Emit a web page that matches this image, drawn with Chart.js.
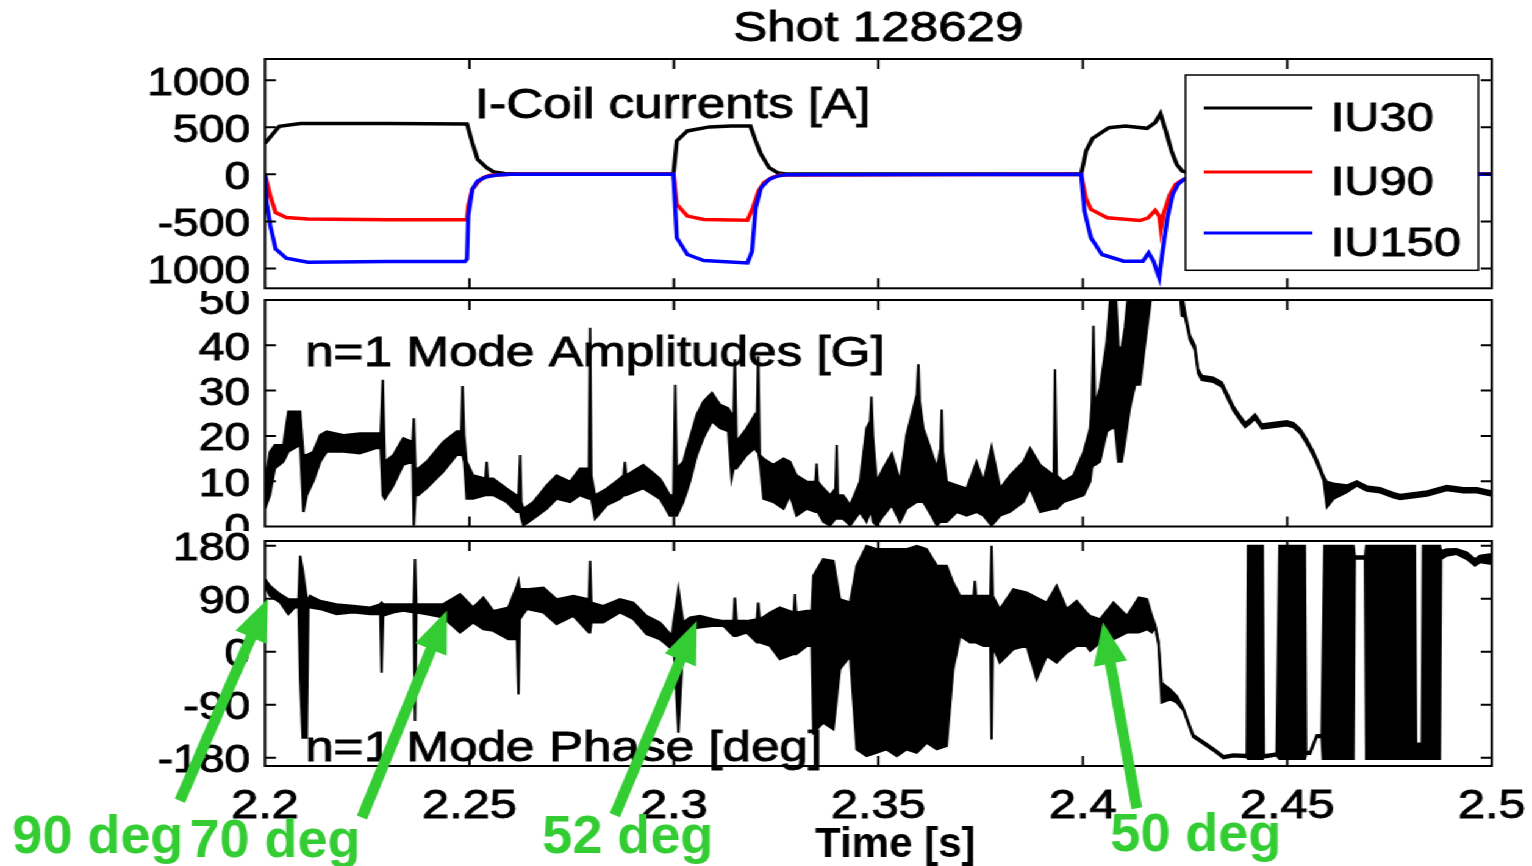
<!DOCTYPE html>
<html>
<head>
<meta charset="utf-8">
<title>Shot 128629</title>
<script src="https://cdn.jsdelivr.net/npm/chart.js@4.4.1/dist/chart.umd.min.js"></script>
<style>
  html, body { margin: 0; padding: 0; background: #fff; overflow: hidden; }
  #figure { position: absolute; left: 0; top: 0; width: 1256px; height: 866px; transform-origin: 0 0; }
  #figure canvas { position: absolute; left: 0; }
  #coils { top: 0; clip-path: inset(0 0 0 121px); }
  #amplitude { top: 291px; }
  #phase { top: 531px; }
</style>
</head>
<body>
<div id="figure">
  <canvas id="coils" width="1256" height="300"></canvas>
  <canvas id="amplitude" width="1256" height="240"></canvas>
  <canvas id="phase" width="1256" height="335"></canvas>
</div>
<script>
// ---- data ----
const timeTicks = [2.2, 2.25, 2.3, 2.35, 2.4, 2.45, 2.5];
const currentTicks = [-1000, -500, 0, 500, 1000];
const amplitudeTicks = [0, 10, 20, 30, 40, 50];
const phaseTicks = [-180, -90, 0, 90, 180];

const coilNames = ['IU30', 'IU90', 'IU150'];

// [time s, current A]
const iu30 = [
  [2.2000, 330], [2.2035, 510], [2.2087, 539], [2.2300, 540], [2.2494, 535], [2.2507, 334],
  [2.2520, 158], [2.2542, 70], [2.2560, 25], [2.2586, 10], [2.2620, 3], [2.2999, 3],
  [2.3007, 355], [2.3033, 461], [2.3087, 504], [2.3140, 514], [2.3187, 514], [2.3200, 355],
  [2.3213, 213], [2.3233, 71], [2.3253, 18], [2.3273, 3], [2.3996, 3],
  [2.4008, 248], [2.4024, 383], [2.4064, 496], [2.4104, 514], [2.4157, 489], [2.4177, 550],
  [2.4190, 645], [2.4203, 461], [2.4217, 248], [2.4230, 106], [2.4243, 35], [2.4270, 5], [2.5000, 3]
];
const iu90 = [
  [2.2000, 0], [2.2013, -230], [2.2026, -405], [2.2052, -458], [2.2105, -475], [2.2300, -482],
  [2.2494, -482], [2.2497, -335], [2.2507, -158], [2.2520, -88], [2.2533, -35], [2.2551, -10],
  [2.2600, 0], [2.2999, 0],
  [2.3007, -319], [2.3033, -443], [2.3073, -480], [2.3180, -488], [2.3193, -355], [2.3207, -177],
  [2.3220, -89], [2.3240, -35], [2.3260, -7], [2.3996, 0],
  [2.4007, -248], [2.4020, -372], [2.4060, -461], [2.4140, -490], [2.4160, -461], [2.4177, -383],
  [2.4187, -443], [2.4191, -585], [2.4197, -426], [2.4213, -213], [2.4227, -106], [2.4240, -71],
  [2.4265, -20], [2.4300, 0], [2.5000, 0]
];
const iu150 = [
  [2.2000, 0], [2.2004, -300], [2.2013, -546], [2.2026, -792], [2.2052, -890], [2.2105, -933],
  [2.2300, -926], [2.2489, -926], [2.2494, -898], [2.2497, -440], [2.2507, -158], [2.2520, -70],
  [2.2542, -25], [2.2568, -7], [2.2600, 0], [2.2999, 0],
  [2.3007, -674], [2.3033, -851], [2.3073, -915], [2.3180, -940], [2.3191, -816], [2.3200, -355],
  [2.3213, -142], [2.3233, -53], [2.3253, -18], [2.3273, -4], [2.3996, 0],
  [2.4004, -390], [2.4020, -674], [2.4047, -851], [2.4100, -922], [2.4147, -922], [2.4161, -833],
  [2.4173, -922], [2.4187, -1099], [2.4193, -887], [2.4207, -461], [2.4220, -213], [2.4233, -106],
  [2.4247, -53], [2.4280, -10], [2.5000, 0]
];

// [time s, low G, high G] envelope of the n=1 amplitude signal
const amplitudeBand = [
  [2.2000, 3.9, 9.9], [2.2012, 6.9, 16.5], [2.2024, 12.8, 18.0], [2.2045, 14.3, 18.0],
  [2.2057, 16.5, 25.4], [2.2086, 18.0, 25.4], [2.2094, 3.2, 15.8], [2.2102, 6.9, 15.8],
  [2.2118, 9.9, 16.5], [2.2135, 14.3, 20.2], [2.2151, 16.5, 21.0], [2.2192, 16.5, 20.2],
  [2.2232, 16.1, 20.6], [2.2273, 17.3, 20.6], [2.2283, 17.3, 20.6], [2.2288, 6.9, 32.4],
  [2.2293, 6.1, 14.3], [2.2314, 9.1, 15.8], [2.2338, 13.6, 19.5], [2.2361, 14.3, 18.7],
  [2.2364, 0.2, 23.9], [2.2368, 6.9, 12.8], [2.2375, 6.9, 12.8], [2.2395, 8.4, 14.3],
  [2.2436, 12.1, 18.7], [2.2469, 15.8, 21.0], [2.2480, 15.8, 21.0], [2.2483, 15.8, 31.0],
  [2.2487, 14.3, 20.2], [2.2493, 6.1, 14.3], [2.2509, 6.1, 11.3], [2.2539, 6.9, 10.6],
  [2.2542, 6.9, 14.3], [2.2545, 6.9, 10.6], [2.2558, 6.9, 10.6], [2.2591, 5.4, 8.4],
  [2.2615, 3.2, 6.9], [2.2620, 3.2, 6.9], [2.2624, 3.2, 15.8], [2.2627, 1.7, 5.4],
  [2.2632, 0.2, 3.9], [2.2656, 1.7, 5.4], [2.2689, 3.9, 9.1], [2.2713, 6.1, 11.3],
  [2.2746, 5.4, 9.9], [2.2770, 6.9, 12.8], [2.2792, 6.1, 12.8], [2.2795, 6.1, 43.9],
  [2.2798, 6.1, 11.3], [2.2807, 1.7, 6.9], [2.2836, 4.7, 8.4], [2.2868, 6.1, 10.6],
  [2.2877, 6.9, 11.3], [2.2880, 6.9, 14.3], [2.2883, 6.9, 11.3], [2.2925, 8.4, 13.6],
  [2.2966, 6.1, 10.6], [2.2990, 2.4, 6.9], [2.2999, 2.4, 6.9], [2.3003, 2.4, 31.3],
  [2.3007, 2.4, 12.8], [2.3023, 5.4, 14.3], [2.3039, 9.9, 19.5], [2.3056, 15.8, 24.7],
  [2.3072, 19.5, 27.6], [2.3093, 23.2, 29.5], [2.3113, 21.7, 26.9], [2.3133, 21.0, 26.1],
  [2.3141, 10.6, 24.7], [2.3146, 12.8, 25.2], [2.3149, 12.8, 36.9], [2.3153, 12.8, 18.7],
  [2.3178, 15.8, 21.7], [2.3198, 17.3, 24.7], [2.3203, 16.5, 23.2], [2.3206, 16.5, 37.6],
  [2.3210, 14.3, 15.8], [2.3219, 6.1, 15.0], [2.3243, 5.4, 13.6], [2.3268, 3.9, 15.0],
  [2.3284, 6.9, 14.3], [2.3300, 2.4, 11.3], [2.3325, 3.9, 9.9], [2.3346, 3.2, 9.9],
  [2.3349, 3.2, 13.9], [2.3352, 3.2, 9.9], [2.3366, 1.0, 8.4], [2.3382, 0.2, 6.9],
  [2.3395, 1.7, 8.4], [2.3398, 1.7, 18.0], [2.3401, 1.7, 6.9], [2.3414, 1.7, 6.9],
  [2.3431, 0.2, 4.7], [2.3455, 3.2, 9.9], [2.3471, 1.0, 21.7], [2.3480, 3.2, 23.2],
  [2.3483, 3.2, 28.7], [2.3487, 1.0, 19.5], [2.3496, 0.2, 9.9], [2.3512, 2.4, 12.8],
  [2.3533, 4.7, 16.1], [2.3553, 1.0, 9.9], [2.3569, 3.9, 20.2], [2.3594, 5.4, 29.1],
  [2.3598, 5.4, 35.8], [2.3601, 5.4, 27.6], [2.3610, 5.4, 21.7], [2.3630, 2.4, 16.5],
  [2.3643, 0.2, 12.8], [2.3652, 1.0, 17.3], [2.3655, 1.0, 25.8], [2.3658, 1.0, 16.5],
  [2.3667, 1.0, 9.9], [2.3692, 3.2, 9.1], [2.3716, 2.4, 8.4], [2.3740, 3.2, 14.3],
  [2.3757, 2.4, 9.9], [2.3777, 0.2, 17.6], [2.3798, 2.4, 8.4], [2.3822, 3.2, 11.3],
  [2.3855, 5.4, 14.3], [2.3871, 8.4, 17.3], [2.3896, 3.2, 13.6], [2.3929, 3.9, 11.3],
  [2.3932, 3.9, 34.7], [2.3936, 3.9, 11.3], [2.3953, 5.4, 9.9], [2.3977, 6.1, 11.3],
  [2.4002, 6.9, 16.5], [2.4018, 9.9, 21.7], [2.4022, 12.8, 26.9], [2.4026, 13.6, 44.3],
  [2.4030, 13.6, 26.9], [2.4042, 14.3, 30.6], [2.4059, 21.0, 41.0], [2.4071, 21.7, 55],
  [2.4079, 21.7, 55], [2.4087, 14.3, 39.5], [2.4095, 14.3, 39.5], [2.4103, 18.7, 43.9],
  [2.4115, 26.1, 55], [2.4128, 31.3, 55], [2.4140, 31.3, 55], [2.4152, 40.2, 55],
  [2.4164, 48.4, 55], [2.4172, 55, 58], [2.4234, 55, 58], [2.4242, 46.5, 52],
  [2.4250, 46.2, 47.4], [2.4262, 41.2, 42.2], [2.4274, 39.0, 40.0], [2.4282, 33.8, 34.8],
  [2.4291, 32.3, 33.3], [2.4319, 31.9, 32.9], [2.4340, 30.8, 31.8], [2.4352, 28.6, 29.6],
  [2.4368, 25.6, 26.6], [2.4385, 23.4, 24.4], [2.4397, 21.9, 22.9], [2.4409, 22.7, 23.7],
  [2.4421, 23.8, 24.8], [2.4438, 21.6, 22.6], [2.4466, 21.9, 22.9], [2.4499, 22.3, 23.3],
  [2.4515, 21.9, 22.9], [2.4532, 20.5, 21.5], [2.4548, 18.2, 19.2], [2.4564, 15.6, 16.6],
  [2.4576, 13.1, 14.1], [2.4589, 10.1, 11.1], [2.4597, 4.3, 9.9], [2.4613, 6.1, 9.5],
  [2.4646, 7.6, 9.1], [2.4670, 9.0, 10.0], [2.4694, 7.9, 8.9], [2.4727, 7.5, 8.5],
  [2.4760, 6.4, 7.4], [2.4776, 6.0, 7.0], [2.4809, 6.4, 7.4], [2.4842, 6.8, 7.8],
  [2.4890, 8.0, 9.0], [2.4931, 7.5, 8.5], [2.4964, 7.5, 8.5], [2.5000, 6.8, 7.8]
];

// [time s, low deg, high deg] envelope of the n=1 phase signal
const phaseBand = [
  [2.2000, 112.0, 123.3], [2.2012, 94.9, 112.0], [2.2037, 83.6, 97.8], [2.2057, 63.7, 89.3],
  [2.2073, 75.1, 89.3], [2.2082, 75.1, 89.3], [2.2086, -46.8, 163.0], [2.2092, -146.1, 140.3],
  [2.2102, -146.1, 90.0], [2.2106, 75.1, 89.3], [2.2110, 75.1, 95.0], [2.2135, 72.3, 86.4],
  [2.2175, 63.7, 80.8], [2.2216, 66.6, 77.9], [2.2257, 63.7, 75.1], [2.2282, 63.7, 80.8],
  [2.2285, -35.5, 83.6], [2.2289, 60.9, 80.8], [2.2314, 66.6, 80.8], [2.2338, 69.4, 80.8],
  [2.2364, 66.6, 80.8], [2.2367, -117.7, 157.3], [2.2370, 66.6, 80.8], [2.2395, 63.7, 80.8],
  [2.2436, 58.1, 80.8], [2.2477, 32.6, 97.8], [2.2509, 49.6, 75.1], [2.2534, 38.2, 92.1],
  [2.2558, 35.4, 69.4], [2.2595, 21.2, 75.1], [2.2616, 21.2, 112.0], [2.2620, -72.4, 120.5],
  [2.2623, 55.2, 106.3], [2.2640, 72.3, 106.3], [2.2681, 66.6, 109.1], [2.2713, 46.7, 89.3],
  [2.2754, 60.9, 94.9], [2.2792, 32.6, 89.3], [2.2795, 32.6, 154.5], [2.2798, 49.6, 83.6],
  [2.2827, 49.6, 77.9], [2.2868, 66.6, 89.3], [2.2901, 55.2, 83.6], [2.2933, 29.7, 60.9],
  [2.2966, 21.2, 49.6], [2.2995, 4.2, 26.9], [2.2999, 15.6, 49.6], [2.3011, -137.6, 106.3],
  [2.3023, 15.6, 49.6], [2.3039, 38.2, 58.1], [2.3064, 41.0, 60.9], [2.3097, 43.9, 55.2],
  [2.3121, 43.9, 52.4], [2.3146, 26.9, 52.4], [2.3149, 26.9, 92.1], [2.3153, 26.9, 52.4],
  [2.3178, 32.6, 52.4], [2.3203, 15.6, 55.2], [2.3206, 15.6, 83.6], [2.3210, 15.6, 55.2],
  [2.3235, 9.9, 66.6], [2.3259, -12.7, 75.1], [2.3293, -4.2, 66.6], [2.3296, -4.2, 97.8],
  [2.3299, -4.2, 66.6], [2.3325, 9.9, 69.4], [2.3337, 9.9, 69.4], [2.3341, -137.6, 129.0],
  [2.3365, -120.6, 157.3], [2.3390, -131.9, 154.5], [2.3406, -29.8, 89.3], [2.3431, -7.1, 83.6],
  [2.3447, -165.9, 146.0], [2.3471, -177.2, 180.0], [2.3496, -171.6, 174.3], [2.3520, -165.9, 174.3],
  [2.3545, -177.2, 174.3], [2.3569, -165.9, 174.3], [2.3594, -171.6, 180.0], [2.3618, -154.6, 174.3],
  [2.3643, -165.9, 146.0], [2.3667, -160.3, 146.0], [2.3683, -29.8, 117.6], [2.3700, 26.9, 94.9],
  [2.3724, 15.6, 94.9], [2.3733, 15.6, 94.9], [2.3736, 15.6, 120.5], [2.3739, 15.6, 94.9],
  [2.3757, 9.9, 94.9], [2.3774, 9.9, 94.9], [2.3777, -149.0, 180.0], [2.3780, 9.9, 94.9],
  [2.3797, -18.5, 72.3], [2.3830, 4.2, 106.3], [2.3863, 9.9, 100.6], [2.3887, -46.8, 92.1],
  [2.3912, -7.1, 83.6], [2.3936, -18.5, 112.0], [2.3961, -1.5, 72.3], [2.3985, 9.9, 86.4],
  [2.4009, 9.9, 66.6], [2.4018, 1.4, 60.9], [2.4042, 15.6, 55.2], [2.4075, 21.2, 83.6],
  [2.4108, 32.6, 60.9], [2.4137, 32.6, 92.1], [2.4157, 38.2, 89.3], [2.4169, 32.6, 60.9],
  [2.4177, 42.0, 46.0], [2.4185, 13.6, 17.6], [2.4193, -86.5, -52.5], [2.4214, -80.8, -63.8],
  [2.4230, -86.5, -75.1], [2.4246, -99.8, -95.8], [2.4258, -122.5, -118.5], [2.4270, -145.2, -141.2],
  [2.4295, -156.5, -152.5], [2.4319, -167.9, -163.9], [2.4344, -181.0, -177.0], [2.4368, -178.0, -174.0],
  [2.4401, -179.0, -175.0], [2.4404, -182, 180], [2.4440, -182, 180], [2.4443, -179.0, -175.0],
  [2.4450, -179.0, -175.0], [2.4474, -176.4, -172.4], [2.4481, -182, 180], [2.4543, -182, 180],
  [2.4546, -173.6, -169.6], [2.4556, -173.6, -169.6], [2.4572, -145.2, -141.2], [2.4584, -145.2, -141.2],
  [2.4587, -182, 0], [2.4591, -182, 180], [2.4662, -182, 180], [2.4665, 158, 162],
  [2.4690, 158, 162], [2.4693, -182, 180], [2.4812, -182, 180], [2.4815, -182, -156],
  [2.4829, -182, -156], [2.4832, -182, 180], [2.4873, -182, 180], [2.4876, 157, 171],
  [2.4890, 163, 174], [2.4914, 165.8, 174.4], [2.4939, 157.4, 168.7], [2.4959, 146, 157],
  [2.4971, 151.7, 163], [2.5000, 148.8, 165.8]
];

// phase readings called out with arrows
const markTimes = [2.2007, 2.2445, 2.3056, 2.4049];
const markPhases = [90, 70, 52, 50];

// ---- layout ----
// the figure is drawn narrow and stretched sideways, like the exported plot it copies
const FIG_WIDTH = 1256;
const STRETCH = 1532 / FIG_WIDTH;
const PLOT_LEFT = 265 / STRETCH;
const PLOT_RIGHT = 1491.7 / STRETCH;
const FONT = "'Liberation Sans', Arial, Helvetica, sans-serif";
const GREEN = '#33cc33';
const INK = 0.9;   // extra stroke around text so it reads as heavy as the plot export

document.getElementById('figure').style.transform = `scaleX(${STRETCH})`;
Chart.defaults.font.family = FONT;
Chart.defaults.color = '#000';

const pts = rows => rows.map(r => ({ x: r[0], y: r[1] }));

function band(rows) {
  return [
    { data: rows.map(r => ({ x: r[0], y: r[2] })), borderColor: '#000', backgroundColor: '#000', borderWidth: 2, fill: '+1' },
    { data: rows.map(r => ({ x: r[0], y: r[1] })), borderColor: '#000', borderWidth: 2, fill: false }
  ];
}

function inkText(ctx, text, x, y, color) {
  ctx.fillStyle = color;
  ctx.strokeStyle = color;
  ctx.lineWidth = INK;
  ctx.fillText(text, x, y);
  ctx.strokeText(text, x, y);
}

// MATLAB style box with inward ticks on every side
const boxAxes = {
  id: 'boxAxes',
  afterDraw(chart) {
    const { ctx, chartArea: a, scales: { x, y } } = chart;
    ctx.save();
    ctx.strokeStyle = '#000';
    ctx.lineWidth = 2;
    ctx.beginPath();
    x.ticks.forEach(t => {
      const px = x.getPixelForValue(t.value);
      if (px < a.left + 2 || px > a.right - 2) return;
      ctx.moveTo(px, a.top); ctx.lineTo(px, a.top + 10);
      ctx.moveTo(px, a.bottom); ctx.lineTo(px, a.bottom - 10);
    });
    y.ticks.forEach(t => {
      const py = y.getPixelForValue(t.value);
      if (py < a.top + 2 || py > a.bottom - 2) return;
      ctx.moveTo(a.left, py); ctx.lineTo(a.left + 9, py);
      ctx.moveTo(a.right, py); ctx.lineTo(a.right - 9, py);
    });
    ctx.stroke();
    ctx.strokeRect(a.left, a.top, a.right - a.left, a.bottom - a.top);
    ctx.restore();
  }
};

// panel caption inside the box, plus the figure title when one is given
const panelText = {
  id: 'panelText',
  afterDatasetsDraw(chart, args, o) {
    const { ctx, chartArea: a } = chart;
    ctx.save();
    ctx.font = `42px ${FONT}`;
    ctx.textBaseline = 'alphabetic';
    inkText(ctx, o.text, a.left + o.dx, o.fromBottom ? a.bottom + o.dy : a.top + o.dy, '#000');
    if (o.title) {
      ctx.textAlign = 'center';
      inkText(ctx, o.title, (a.left + a.right) / 2, a.top - 18, '#000');
    }
    ctx.restore();
  }
};

const coilLegend = {
  id: 'coilLegend',
  afterDatasetsDraw(chart) {
    const { ctx, chartArea: a } = chart;
    const w = 240, left = a.right - 11 - w, top = a.top + 16, bottom = a.bottom - 18;
    const rows = [33, 97, 158];
    ctx.save();
    ctx.fillStyle = '#fff';
    ctx.fillRect(left, top, w, bottom - top);
    ctx.strokeStyle = '#000';
    ctx.lineWidth = 1.5;
    ctx.strokeRect(left, top, w, bottom - top);
    ctx.font = `40px ${FONT}`;
    ctx.textBaseline = 'alphabetic';
    chart.data.datasets.forEach((ds, i) => {
      const yy = top + rows[i];
      ctx.strokeStyle = ds.borderColor;
      ctx.lineWidth = 3;
      ctx.beginPath();
      ctx.moveTo(left + 15, yy);
      ctx.lineTo(left + 104, yy);
      ctx.stroke();
      inkText(ctx, ds.label, left + 119, yy + 23, '#000');
    });
    ctx.restore();
  }
};

// tail and label offsets from each arrow tip, in screen pixels
const CALLOUTS = [
  { tail: [-88, 202], label: [-170, 239] },
  { tail: [-85, 207], label: [-172, 232] },
  { tail: [-82, 194], label: [-69, 217] },
  { tail: [34, 186], label: [93, 214] }
];

function arrow(ctx, x0, y0, x1, y1) {
  const len = Math.hypot(x1 - x0, y1 - y0);
  const head = 42, headW = 34, shaft = 11;
  ctx.save();
  ctx.translate(x0, y0);
  ctx.rotate(Math.atan2(y1 - y0, x1 - x0));
  ctx.beginPath();
  ctx.moveTo(0, -shaft / 2);
  ctx.lineTo(len - head, -shaft / 2);
  ctx.lineTo(len - head, -headW / 2);
  ctx.lineTo(len, 0);
  ctx.lineTo(len - head, headW / 2);
  ctx.lineTo(len - head, shaft / 2);
  ctx.lineTo(0, shaft / 2);
  ctx.closePath();
  ctx.fill();
  ctx.restore();
}

const phaseCallouts = {
  id: 'phaseCallouts',
  afterDraw(chart) {
    const { ctx, chartArea: a, scales: { x, y } } = chart;
    ctx.save();
    // undo the sideways stretch so arrows and overlay text keep their shape
    ctx.scale(1 / STRETCH, 1);
    ctx.textAlign = 'center';
    ctx.textBaseline = 'middle';
    markTimes.forEach((t, i) => {
      const tx = x.getPixelForValue(t) * STRETCH;
      const ty = y.getPixelForValue(markPhases[i]);
      const c = CALLOUTS[i];
      ctx.fillStyle = GREEN;
      arrow(ctx, tx + c.tail[0], ty + c.tail[1], tx, ty);
      ctx.font = `bold 54px ${FONT}`;
      ctx.fillText(`${markPhases[i]} deg`, tx + c.label[0], ty + c.label[1]);
    });
    ctx.fillStyle = '#000';
    ctx.font = `bold 42px ${FONT}`;
    ctx.fillText('Time [s]', (a.left + a.right) / 2 * STRETCH + 17, a.bottom + 79);
    ctx.restore();
  }
};

function panel(id, o) {
  return new Chart(document.getElementById(id), {
    type: 'line',
    data: { datasets: o.datasets },
    options: {
      responsive: false,
      animation: false,
      events: [],
      layout: { padding: { left: 0, right: FIG_WIDTH - PLOT_RIGHT, top: o.padTop, bottom: o.padBottom } },
      elements: { point: { radius: 0 }, line: { tension: 0 } },
      plugins: {
        legend: { display: false },
        tooltip: { enabled: false },
        title: { display: false },
        panelText: o.label
      },
      scales: {
        x: {
          type: 'linear',
          min: 2.2,
          max: 2.5,
          afterBuildTicks: s => { s.ticks = timeTicks.map(v => ({ value: v })); },
          ticks: {
            display: !!o.timeLabels, font: { size: 40 }, padding: 17, autoSkip: false, maxRotation: 0,
            textStrokeColor: '#000', textStrokeWidth: INK, callback: v => String(v)
          },
          grid: { display: false, drawTicks: false },
          border: { display: false },
          afterFit: s => { s.height = o.timeAxisHeight || 0; s.paddingLeft = 0; s.paddingRight = 0; }
        },
        y: {
          min: o.yMin,
          max: o.yMax,
          afterBuildTicks: s => { s.ticks = o.yTicks.map(v => ({ value: v })); },
          ticks: {
            font: { size: 38 }, padding: 12, labelOffset: 4, autoSkip: false,
            textStrokeColor: '#000', textStrokeWidth: INK, callback: v => String(v)
          },
          grid: { display: false, drawTicks: false },
          border: { display: false },
          afterFit: s => { s.width = PLOT_LEFT; s.paddingTop = 0; s.paddingBottom = 0; }
        }
      }
    },
    plugins: [panelText, boxAxes].concat(o.plugins || [])
  });
}

panel('coils', {
  datasets: [
    { label: coilNames[0], data: pts(iu30), borderColor: '#000000', borderWidth: 3.5, order: 2 },
    { label: coilNames[1], data: pts(iu90), borderColor: '#ff0000', borderWidth: 3.5, order: 1 },
    { label: coilNames[2], data: pts(iu150), borderColor: '#0000ff', borderWidth: 3.5, order: 0 }
  ],
  label: { text: 'I-Coil currents [A]', dx: 172, dy: 59, title: 'Shot 128629' },
  padTop: 59, padBottom: 11.7,
  yMin: -1210, yMax: 1225, yTicks: currentTicks,
  plugins: [coilLegend]
});

panel('amplitude', {
  datasets: band(amplitudeBand),
  label: { text: 'n=1 Mode Amplitudes [G]', dx: 33, dy: 66 },
  padTop: 9, padBottom: 4.5,
  yMin: 0, yMax: 50, yTicks: amplitudeTicks
});

panel('phase', {
  datasets: band(phaseBand),
  label: { text: 'n=1 Mode Phase [deg]', dx: 33, dy: -5, fromBottom: true },
  padTop: 10, padBottom: 0,
  timeLabels: true, timeAxisHeight: 100,
  yMin: -194, yMax: 188, yTicks: phaseTicks,
  plugins: [phaseCallouts]
});
</script>
</body>
</html>
